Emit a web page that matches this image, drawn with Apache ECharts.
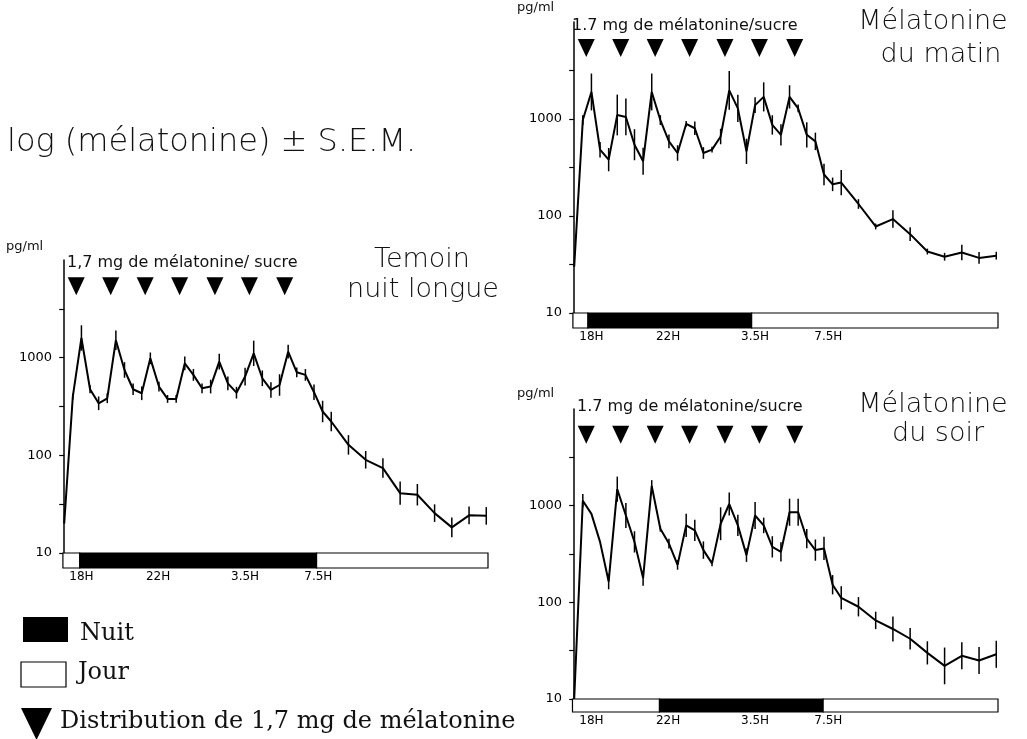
<!DOCTYPE html>
<html>
<head>
<meta charset="utf-8">
<script src="https://cdn.jsdelivr.net/npm/echarts@6/dist/echarts.min.js"></script>
<style>
html,body{margin:0;padding:0;background:#fff}
#main{width:1027px;height:739px}
</style>
</head>
<body>
<div id="main"></div>
<script>
// sampling steps (x position of each measurement)
var steps = [0,1,2,3,4,5,6,7,8,9,10,11,12,13,14,15,16,17,18,19,20,21,22,23,24,25,26,27,28,29,30,31,33,35,37,39,41,43,45,47,49];

// Temoin nuit longue (pg/ml) and SEM half-width (log10 units)
var temoinVal = [20,400,1590,475,341,384,1510,748,475,432,984,506,378,378,875,666,486,506,910,546,438,640,1107,615,467,525,1151,708,666,443,281,222,128,90,74,41,39.5,25.6,18.3,24.3,24];
var temoinErr = [0,0.03,0.13,0.04,0.07,0.05,0.1,0.08,0.06,0.07,0.06,0.05,0.04,0.04,0.07,0.06,0.05,0.07,0.08,0.07,0.06,0.09,0.13,0.08,0.08,0.11,0.07,0.05,0.06,0.08,0.11,0.1,0.1,0.09,0.1,0.12,0.11,0.09,0.1,0.09,0.09];

// Mélatonine du matin
var matinVal = [30,975,1900,483,381,1100,1050,543,367,1900,975,588,446,890,803,446,483,660,1976,1285,464,1390,1690,869,687,1690,1285,687,588,268,212,221,133,78,93,65,43,38,42,37,39];
var matinErr = [0,0.05,0.19,0.08,0.12,0.21,0.19,0.16,0.14,0.19,0.05,0.07,0.08,0.03,0.07,0.06,0.03,0.08,0.2,0.14,0.13,0.08,0.15,0.1,0.11,0.12,0.04,0.13,0.09,0.11,0.07,0.13,0.05,0.03,0.09,0.07,0.03,0.04,0.08,0.06,0.04];

// Mélatonine du soir
var soirVal = [10,1125,822,422,164,1480,791,422,178,1600,577,405,244,625,555,347,253,650,1040,625,308,791,625,375,333,855,855,456,347,361,152,111,90,65,53,42,30,22,28,25,29];
var soirErr = [0,0.07,0,0,0.08,0.13,0.13,0.11,0.08,0.06,0.03,0.05,0.05,0.12,0.11,0.09,0.03,0.17,0.12,0.11,0.07,0.14,0.08,0.11,0.1,0.14,0.14,0.1,0.11,0.12,0.1,0.12,0.1,0.09,0.13,0.11,0.12,0.19,0.14,0.14,0.14];

// doses (triangles)
var doseSteps = [1.4,5.4,9.4,13.4,17.5,21.5,25.6];
var doseLevel = 5400;

// time labels under the day/night bar
var timeTicks = [2,10.9,21,29.5];
var timeLabels = ['18H','22H','3.5H','7.5H'];

// y axis ticks
var yLabelValues = [10,100,1000];
var yTickValues = [10,31.6,100,316,1000,3162];

// day / night bars: [start, end, night?]
var temoinBar = [[-0.15,1.8,0],[1.8,29.3,1],[29.3,49.2,0]];
var matinBar = [[-0.15,1.6,0],[1.6,20.6,1],[20.6,49.2,0]];
var soirBar = [[-0.2,9.9,0],[9.9,28.9,1],[28.9,49.2,0]];

var panels = [
    {left:53, top:260, height:293, barH:15, val:temoinVal, err:temoinErr, bar:temoinBar},
    {left:563, top:22, height:291, barH:15, val:matinVal, err:matinErr, bar:matinBar},
    {left:563, top:409, height:290, barH:13, val:soirVal, err:soirErr, bar:soirBar}
];

var FONT = '"DejaVu Sans", sans-serif';
var grid = [], xAxis = [], yAxis = [], series = [];

panels.forEach(function(p, k){
    var gi = k * 2;
    grid.push({left:p.left, top:p.top, width:435, height:p.height});
    grid.push({left:p.left, top:p.top + p.height, width:435, height:p.barH});

    xAxis.push({type:'value', gridIndex:gi, min:-1.3, max:49.2, show:false});
    xAxis.push({
        type:'value', gridIndex:gi+1, min:-1.3, max:49.2,
        axisLine:{show:false}, axisTick:{show:false}, splitLine:{show:false},
        axisLabel:{
            customValues:timeTicks, margin:3, color:'#000', fontSize:12, fontFamily:FONT,
            formatter:function(v){ return timeLabels[timeTicks.indexOf(v)] || ''; }
        }
    });

    yAxis.push({
        type:'log', logBase:10, gridIndex:gi, min:10, max:10000,
        axisLine:{show:true, lineStyle:{color:'#000', width:1.5}},
        axisTick:{show:true, customValues:yTickValues, length:5, lineStyle:{color:'#000', width:1.2}},
        axisLabel:{customValues:yLabelValues, margin:1, color:'#000', fontSize:13, fontFamily:FONT,
            formatter:function(v){ return String(Math.round(v)); }},
        splitLine:{show:false}
    });
    yAxis.push({type:'value', gridIndex:gi+1, min:0, max:1, show:false});

    var lineData = steps.map(function(s, i){ return [s, p.val[i]]; });
    var errData = [];
    steps.forEach(function(s, i){
        if (p.err[i] > 0) {
            var f = Math.pow(10, p.err[i]);
            errData.push([s, p.val[i] / f, p.val[i] * f]);
        }
    });

    series.push({
        type:'line', xAxisIndex:gi, yAxisIndex:gi, data:lineData,
        showSymbol:false, lineStyle:{color:'#000', width:2}, silent:true
    });
    series.push({
        type:'custom', xAxisIndex:gi, yAxisIndex:gi, data:errData,
        encode:{x:0, y:[1,2]},
        renderItem:function(params, api){
            var a = api.coord([api.value(0), api.value(1)]);
            var b = api.coord([api.value(0), api.value(2)]);
            return {type:'line', shape:{x1:a[0], y1:a[1], x2:b[0], y2:b[1]},
                    style:{stroke:'#000', lineWidth:1.5}};
        }
    });
    series.push({
        type:'scatter', xAxisIndex:gi, yAxisIndex:gi,
        data:doseSteps.map(function(d){ return [d, doseLevel]; }),
        symbol:'triangle', symbolRotate:180, symbolSize:[17,18],
        itemStyle:{color:'#000', opacity:1}
    });
    series.push({
        type:'custom', xAxisIndex:gi+1, yAxisIndex:gi+1, data:p.bar,
        renderItem:function(params, api){
            var a = api.coord([api.value(0), 1]);
            var b = api.coord([api.value(1), 0]);
            return {type:'rect', shape:{x:a[0], y:a[1], width:b[0]-a[0], height:b[1]-a[1]},
                    style:{fill: api.value(2) ? '#000' : '#fff', stroke:'#000', lineWidth:1.2}};
        }
    });
});

function txt(x, y, s, font, align){
    return {type:'text', x:x, y:y, style:{text:s, font:font, fill:'#111', align:align || 'left', verticalAlign:'middle'}};
}

var titleFont = '200 27px "DejaVu Sans"';
var smallFont = '16px "DejaVu Sans"';
var unitFont = '13px "DejaVu Sans"';
var legendFont = '24px "DejaVu Serif"';

var graphics = [
    txt(7, 143, 'log (mélatonine) ± S.E.M.', '200 32px "DejaVu Sans"'),
    txt(422, 260, 'Temoin', titleFont, 'center'),
    txt(423, 290, 'nuit longue', titleFont, 'center'),
    txt(933, 22, 'Mélatonine', titleFont, 'center'),
    txt(941, 55, 'du matin', titleFont, 'center'),
    txt(933, 405, 'Mélatonine', titleFont, 'center'),
    txt(938, 434, 'du soir', titleFont, 'center'),
    txt(6, 247, 'pg/ml', unitFont),
    txt(517, 8, 'pg/ml', unitFont),
    txt(517, 394, 'pg/ml', unitFont),
    txt(67, 263, '1,7 mg de mélatonine/ sucre', smallFont),
    txt(572, 26, '1.7 mg de mélatonine/sucre', smallFont),
    txt(577, 407, '1.7 mg de mélatonine/sucre', smallFont),
    {type:'rect', shape:{x:23, y:617, width:45, height:25}, style:{fill:'#000'}},
    txt(80, 634, 'Nuit', legendFont),
    {type:'rect', shape:{x:21, y:662, width:45, height:25}, style:{fill:'#fff', stroke:'#000', lineWidth:1.2}},
    txt(78, 673, 'Jour', legendFont),
    {type:'polygon', shape:{points:[[21,708],[52,708],[36.5,740]]}, style:{fill:'#000'}},
    txt(60, 722, 'Distribution de 1,7 mg de mélatonine', legendFont)
];

var myChart = echarts.init(document.getElementById('main'), null, {renderer:'canvas'});
myChart.setOption({
    backgroundColor:'#fff',
    animation:false,
    grid:grid,
    xAxis:xAxis,
    yAxis:yAxis,
    series:series,
    graphic:graphics
});
</script>
</body>
</html>
